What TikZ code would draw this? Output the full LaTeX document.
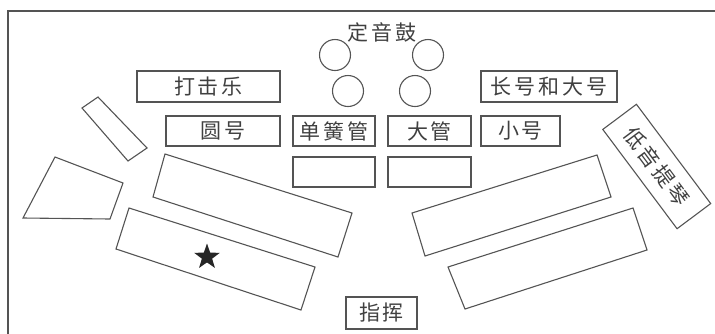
\documentclass[tikz,border=0pt]{standalone}
\usepackage{fontspec}
\usetikzlibrary{shapes.geometric}
\newfontfamily\cjkfont[LetterSpace=14]{Noto Sans CJK SC}
\definecolor{linec}{gray}{0.33}
\definecolor{txtc}{gray}{0.25}
\tikzset{
  every picture/.style={x=1pt,y=-1pt},
  lbl/.style={draw=linec, line width=1.1pt, inner sep=0pt, text=txtc,
    font=\cjkfont\fontsize{21}{21}\selectfont},
  seat/.style={draw=linec, line width=1.1pt, line join=miter},
  drum/.style={circle, draw=linec, line width=1.1pt, minimum size=31pt, inner sep=0pt},
}
\begin{document}
\begin{tikzpicture}[x=1pt,y=-1pt]
\useasboundingbox (0,0) rectangle (715,333);
% frame
\draw[draw=linec, line width=1.3pt] (8,336) -- (8,11) -- (718,11);
% text boxes
\node[lbl, minimum width=143pt, minimum height=31pt] (perc) at (208.5,86.5) {打击乐};
\node[lbl, minimum width=114pt, minimum height=30pt] (horn) at (223,131) {圆号};
\node[lbl, minimum width=82pt, minimum height=30pt] (clar) at (334,131) {单簧管};
\node[lbl, minimum width=83pt, minimum height=30pt] (bass) at (429.5,131) {大管};
\node[lbl, minimum width=82pt, minimum height=30pt] (e1) at (334,172) {};
\node[lbl, minimum width=83pt, minimum height=30pt] (e2) at (429.5,172) {};
\node[lbl, minimum width=79pt, minimum height=30pt] (tpt) at (520.5,131) {小号};
\node[lbl, minimum width=136pt, minimum height=31pt] (tbn) at (549,86.5) {长号和大号};
\node[lbl, minimum width=71pt, minimum height=32pt] (cond) at (381.5,313) {指挥};
\node[lbl, minimum width=124pt, minimum height=42pt, rotate=-53.2] (cb) at (656.75,166.5) {低音提琴};
% timpani
\node[lbl, draw=none] (timp) at (382,32) {定音鼓};
\node[drum] (d1) at (335,55) {};
\node[drum] (d2) at (348,91) {};
\node[drum] (d3) at (428,55) {};
\node[drum] (d4) at (415,91) {};
% seats
\draw[seat] (98,97) -- (147,148) -- (128,161) -- (82,108) -- cycle;
\draw[seat] (55,157) -- (123,183) -- (110,219) -- (23,218) -- cycle;
\draw[seat] (165,154) -- (352,213) -- (338,257) -- (153,197) -- cycle;
\draw[seat] (129,208) -- (315,267) -- (301,310) -- (116,249) -- cycle;
\draw[seat] (412,213) -- (597,155) -- (611,197) -- (425,256) -- cycle;
\draw[seat] (448,267) -- (633,208) -- (647,250) -- (465,309) -- cycle;
% star
\node[star, star points=5, star point ratio=2.5, fill=black!85, minimum size=27pt, inner sep=0pt] (st) at (207,257) {};
\end{tikzpicture}
\end{document}
